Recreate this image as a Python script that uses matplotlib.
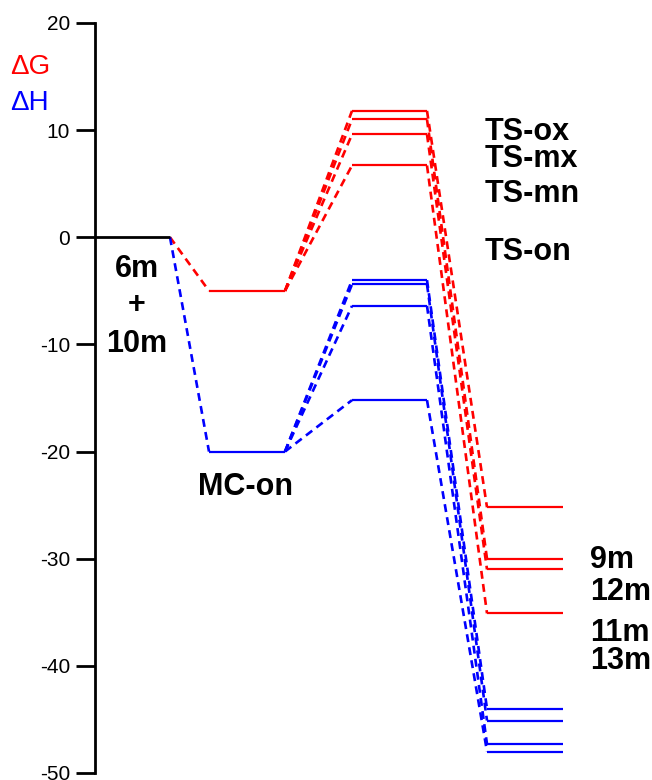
import matplotlib
matplotlib.use('Agg')
import matplotlib.pyplot as plt

# ---------------- data ----------------
dG_start = 0.0
dG_mc = -5.0
dG_ts = [11.8, 11.0, 9.6, 6.7]
dG_prod = [-25.2, -30.0, -31.0, -35.1]

dH_start = 0.0
dH_mc = -20.0
dH_ts = [-4.0, -4.4, -6.4, -15.2]
dH_prod = [-44.0, -45.1, -47.3, -48.0]

reactant_labels = ['6m', '+', '10m']
mc_label = 'MC-on'
ts_names = ['TS-ox', 'TS-mx', 'TS-mn', 'TS-on']
prod_names = ['9m', '12m', '11m', '13m']
yticks = [20, 10, 0, -10, -20, -30, -40, -50]

# ---------------- layout ----------------
W, H = 652, 780
fig = plt.figure(figsize=(W / 100, H / 100), dpi=100)
ax = fig.add_axes([95 / W, 7 / H, (W - 95) / W, 750 / H])
ax.set_xlim(0, W - 95)
ax.set_ylim(-50, 20)

# stage x extents
X_START = (0, 75)
X_MC = (114, 190)
X_TS = (257, 332)
X_PROD = (392, 468)

RED = '#ff0000'
BLUE = '#0000ff'
lw_level = 1.6
lw_dash = 1.9
dash = (0, (3, 2))


def level(x, y, c):
    ax.plot(x, [y, y], color=c, lw=lw_level, solid_capstyle='butt', zorder=3)


def connect(x0, y0, x1, y1, c):
    ax.plot([x0, x1], [y0, y1], color=c, lw=lw_dash, linestyle=dash, zorder=2)


# start level
ax.plot(X_START, [dG_start, dG_start], color='black', lw=2.0, solid_capstyle='butt', zorder=3)

for start, mc, ts_list, prod_list, c in [
    (dG_start, dG_mc, dG_ts, dG_prod, RED),
    (dH_start, dH_mc, dH_ts, dH_prod, BLUE),
]:
    connect(X_START[1], start, X_MC[0], mc, c)
    level(X_MC, mc, c)
    for ts, pr in zip(ts_list, prod_list):
        connect(X_MC[1], mc, X_TS[0], ts, c)
        level(X_TS, ts, c)
        connect(X_TS[1], ts, X_PROD[0], pr, c)
        level(X_PROD, pr, c)

# ---------------- axes styling ----------------
for s in ['top', 'right', 'bottom']:
    ax.spines[s].set_visible(False)
ax.spines['left'].set_linewidth(2.0)
ax.set_xticks([])
ax.set_yticks(yticks)
ax.set_yticklabels([str(t) for t in yticks])
ax.tick_params(axis='y', direction='out', length=14, width=2.0, pad=4,
               labelsize=15)
for lab in ax.get_yticklabels():
    lab.set_fontfamily('Liberation Sans')

# ---------------- text ----------------
tfont = dict(fontfamily='Liberation Sans', fontweight='bold', fontsize=22,
             color='black', clip_on=False)

ax.text(42, -3.74, reactant_labels[0], ha='center', va='baseline', **tfont)
ax.text(42, -6.36, reactant_labels[1], ha='center', va='center', **tfont)
ax.text(42, -10.75, reactant_labels[2], ha='center', va='baseline', **tfont)
ax.text(151, -24.1, mc_label, ha='center', va='baseline', **tfont)

ts_y = [9.07, 6.54, 3.27, -2.15]
for name, y in zip(ts_names, ts_y):
    ax.text(390, y, name, ha='left', va='baseline', **tfont)

prod_y = [-30.9, -33.9, -37.7, -40.3]
for name, y in zip(prod_names, prod_y):
    ax.text(495, y, name, ha='left', va='baseline', **tfont)

fig.text(10 / W, 1 - 67 / H, '\u0394G', color=RED, fontsize=20,
         fontfamily='Liberation Sans', ha='left', va='center')
fig.text(10 / W, 1 - 103 / H, '\u0394H', color=BLUE, fontsize=20,
         fontfamily='Liberation Sans', ha='left', va='center')

fig.savefig('out.png', dpi=100)
